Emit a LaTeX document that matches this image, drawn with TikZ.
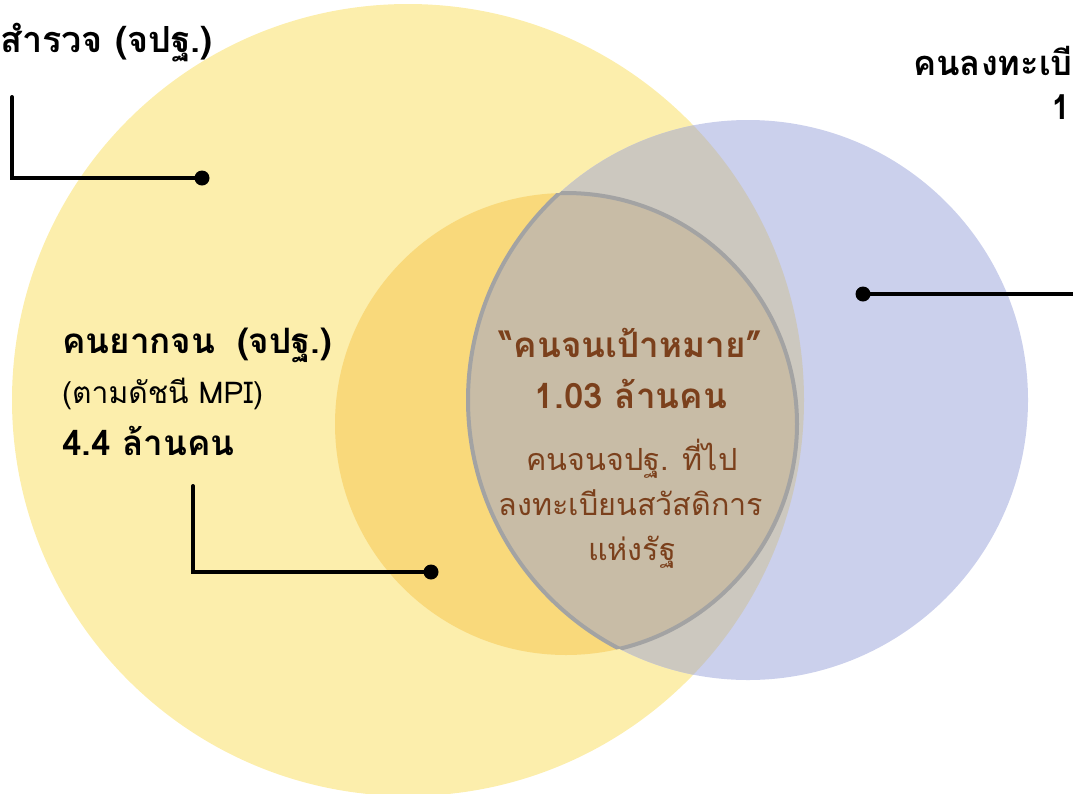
\documentclass[tikz,border=0pt]{standalone}
\usepackage{fontspec}
\newfontfamily\thai[Script=Thai]{Loma}
\definecolor{yel}{HTML}{FCEEAC}
\definecolor{org}{HTML}{F9D97B}
\definecolor{blu}{HTML}{CBD0EC}
\definecolor{gry}{HTML}{CCC8BF}
\definecolor{lensc}{HTML}{C8BCA6}
\definecolor{lensl}{HTML}{A3A3A3}
\definecolor{brn}{HTML}{7B401C}
\tikzset{
  conn/.style={line width=4pt, black, line cap=round},
  dot/.style={circle, fill=black, inner sep=0pt, minimum size=15pt},
  txt/.style={inner sep=0pt, font=\thai},
  tlb/.style={txt, font=\thai\bfseries\fontsize{36}{38}\selectfont},
  trb/.style={txt, font=\thai\bfseries\fontsize{34.5}{36}\selectfont},
  midb/.style={txt, font=\thai\bfseries\fontsize{35}{37}\selectfont},
  midr/.style={txt, font=\thai\fontsize{30}{32}\selectfont},
  cenb/.style={txt, font=\thai\bfseries\fontsize{35}{37}\selectfont, text=brn},
  cenr/.style={txt, font=\thai\fontsize{30.5}{33}\selectfont, text=brn},
}
\begin{document}
\begin{tikzpicture}[x=1pt,y=-1pt]
\useasboundingbox (0,0) rectangle (1073,793);
\clip (0,0) rectangle (1073,793);
% circles
\fill[yel] (408,400) circle (396pt);
\fill[org] (566,424) circle (231pt);
\fill[blu] (748,400) circle (280pt);
\begin{scope}
  \clip (408,400) circle (396pt);
  \fill[gry] (748,400) circle (280pt);
\end{scope}
\begin{scope}
  \clip (566,424) circle (231pt);
  \fill[lensc] (748,400) circle (280pt);
\end{scope}
\begin{scope}
  \clip (566,424) circle (231pt);
  \draw[lensl, line width=4pt] (748,400) circle (280pt);
\end{scope}
\begin{scope}
  \clip (748,400) circle (280pt);
  \draw[lensl, line width=4pt] (566,424) circle (231pt);
\end{scope}
% connectors
\node[dot] (d1) at (202,178) {};
\coordinate (s1) at (12,97);
\draw[conn] (s1) |- (d1);
\node[dot] (d2) at (431,572) {};
\coordinate (s2) at (193,486);
\draw[conn] (s2) |- (d2);
\node[dot] (d3) at (863,294) {};
\coordinate (e3) at (1075,294);
\draw[conn] (d3) -- (e3);
% texts
\node[tlb, anchor=base west] (t1) at (0,52) {สำรวจ (จปฐ.)};
\node[trb, anchor=base east] (t2) at (1073,75) {คนลงทะเบี};
\node[trb, anchor=base east] (t3) at (1071,119) {1};
\node[midb, anchor=base west] (l1) at (62,353) {คนยากจน\hspace{10pt} (จปฐ.)};
\node[midr, anchor=base west] (l2) at (62,403) {(ตามดัชนี MPI)};
\node[midb, anchor=base west] (l3) at (62,455) {4.4 ล้านคน};
\node[cenb, anchor=base] (c1) at (631,357) {“คนจนเป้าหมาย”};
\node[cenb, anchor=base] (c2) at (631,408) {1.03 ล้านคน};
\node[cenr, anchor=base] (c3) at (632,470) {คนจนจปฐ. ที่ไป};
\node[cenr, anchor=base] (c4) at (631,515) {ลงทะเบียนสวัสดิการ};
\node[cenr, anchor=base] (c5) at (632,560) {แห่งรัฐ};
\end{tikzpicture}
\end{document}
